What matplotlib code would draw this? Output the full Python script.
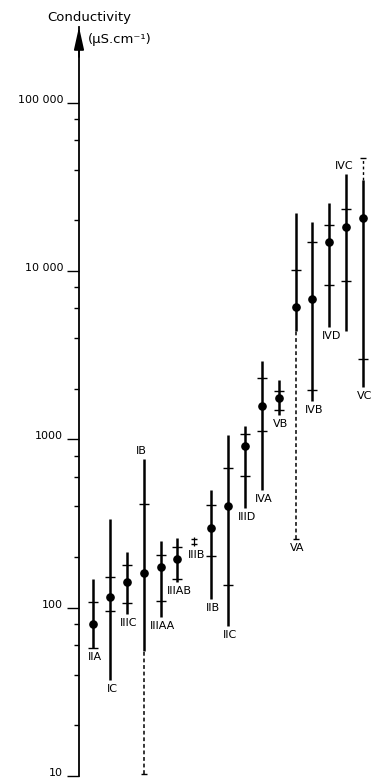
import numpy as np
import matplotlib
matplotlib.use("Agg")
import matplotlib.pyplot as plt

nan = np.nan
names = ["IIA", "IC", "IIIC", "IB", "IIIAA", "IIIAB", "IIIB", "IIB", "IIC",
         "IIID", "IVA", "VB", "VA", "IVB", "IVD", "IVC", "VC"]
centers = [80, 116, 142, 161, 175, 194, nan, 298, 402, 908, 1590, 1760,
           6100, 6800, 14900, 18200, 20800]
range_lo = [58, 37, 92, 55, 88, 143, 233, 113, 78, 391, 498, 1390,
            4390, 1690, 4660, 4390, 2060]
range_hi = [149, 335, 214, 768, 249, 259, 262, 498, 1057, 1205, 2920, 2250,
            22100, 19500, 25400, 38000, 34900]
tick_hi = [108, 153, 180, 415, 205, 231, 257, 405, 679, 1081, 2310, 1940,
           10200, 14800, 18900, 23400, nan]
tick_lo = [58, 96, 107, nan, 110, 149, 238, 203, 137, 603, 1116, 1490,
           nan, 1970, 8300, 8690, 2990]
dash_lo = [nan, nan, nan, 10.3, nan, nan, nan, nan, nan, nan, nan, nan,
           257, nan, nan, nan, nan]
dash_hi = [nan, nan, nan, nan, nan, nan, nan, nan, nan, nan, nan, nan,
           nan, nan, nan, nan, 46800]
label_above = ["IB", "IVC"]

tick_vals = [10, 100, 1000, 10000, 100000]
tick_labels = ["10", "100", "1000", "10 000", "100 000"]

W, H = 374, 780
fig = plt.figure(figsize=(W / 100, H / 100), dpi=100)
x0_px, step_px = 93, 16.875
ax = fig.add_axes([79 / W, 4 / H, (W - 79) / W, 749 / H])
ax.set_yscale("log")
ytop = 10 ** (1 + 749 / 168.3)
ax.set_ylim(10, ytop)
ax.set_xlim(-(x0_px - 79) / step_px, (W - x0_px) / step_px)

for s in ["top", "right", "bottom"]:
    ax.spines[s].set_visible(False)
ax.spines["left"].set_linewidth(1.3)
ax.set_xticks([])
ax.set_yticks(tick_vals)
ax.set_yticklabels(tick_labels)
for lab in ax.get_yticklabels():
    lab.set_verticalalignment("baseline")
minor = [m * 10 ** k for k in range(1, 5) for m in (2, 4, 6, 8)]
ax.set_yticks(minor, minor=True)
ax.yaxis.set_minor_formatter(matplotlib.ticker.NullFormatter())
ax.tick_params(axis="y", which="major", length=8.5, width=1.0, pad=3,
               labelsize=8, direction="out")
ax.tick_params(axis="y", which="minor", length=3.5, width=1.0,
               direction="out")

ax.annotate("", xy=(0, 1), xycoords="axes fraction", xytext=(0, 0.96),
            arrowprops=dict(arrowstyle="-|>,head_length=1.35,head_width=0.3",
                            mutation_scale=10, lw=1.3, color="black",
                            shrinkA=0, shrinkB=0), annotation_clip=False)

fig.text(47 / W, 1 - 18 / H, "Conductivity", fontsize=9.5, ha="left",
         va="center")
fig.text(88 / W, 1 - 40 / H, "(µS.cm⁻¹)", fontsize=9.5, ha="left",
         va="center")

for i, name in enumerate(names):
    thin = np.isnan(centers[i])
    ax.plot([i, i], [range_lo[i], range_hi[i]], color="black",
            lw=0.9 if thin else 1.8, solid_capstyle="butt", zorder=2)
    for tv in (tick_hi[i], tick_lo[i]):
        if not np.isnan(tv):
            ax.plot([i], [tv], marker="_", ms=5 if thin else 7.5, mew=1.0,
                    color="black", zorder=3)
    if not np.isnan(centers[i]):
        ax.plot([i], [centers[i]], "o", ms=5.2, color="black", zorder=4)
    low_end = range_lo[i]
    if not np.isnan(dash_lo[i]):
        ax.plot([i, i], [dash_lo[i], range_lo[i]], color="black", lw=1.1,
                ls=(0, (2.5, 1.8)), zorder=2)
        ax.plot([i], [dash_lo[i]], marker="_", ms=5, mew=1.0, color="black",
                zorder=3)
        low_end = dash_lo[i]
    high_end = range_hi[i]
    if not np.isnan(dash_hi[i]):
        ax.plot([i, i], [range_hi[i], dash_hi[i]], color="black", lw=1.0,
                ls=(0, (2, 2)), zorder=2)
        ax.plot([i], [dash_hi[i]], marker="_", ms=5, mew=1.0, color="black",
                zorder=3)
        high_end = dash_hi[i]
    if name in label_above:
        ax.annotate(name, (i, high_end), xytext=(-2, 3),
                    textcoords="offset pixels", ha="center", va="bottom",
                    fontsize=8)
    else:
        ax.annotate(name, (i, low_end), xytext=(2, -4),
                    textcoords="offset pixels", ha="center", va="top",
                    fontsize=8)

fig.savefig("out.png", dpi=100)
